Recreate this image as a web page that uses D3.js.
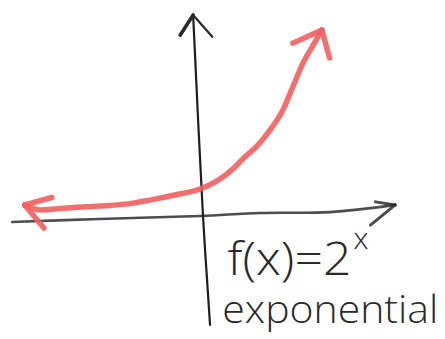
<!DOCTYPE html>
<html>
<head>
<meta charset="utf-8">
<script src="https://cdn.jsdelivr.net/npm/d3@7"></script>
<style>
  html, body { margin: 0; padding: 0; background: #fff; }
  svg { display: block; }
</style>
</head>
<body>
<svg id="chart" width="445" height="339"></svg>
<script>
// Hand-sketched graph of f(x) = 2^x, in graph units (origin at the axes' crossing)
const curveX = [-3.79, -3.45, -2.89, -2.19, -1.49, -1.13, -0.60, -0.06, 0.30, 0.64, 0.89, 1.15, 1.43, 1.70, 1.91, 2.13, 2.32, 2.53];
const curveY = [0.37, 0.20, 0.27, 0.33, 0.43, 0.53, 0.70, 0.90, 1.17, 1.57, 1.97, 2.33, 2.87, 3.53, 4.30, 5.10, 5.63, 6.20];

// Axis strokes as drawn (slightly tilted by hand)
const xAxisX = [-4.06, -2.21, -0.06, 1.21, 2.70, 4.09];
const xAxisY = [-0.20, -0.10, 0.00, 0.10, 0.13, 0.37];
const yAxisX = [0.15, 0.00, -0.21];
const yAxisY = [-3.63, 0.00, 6.70];

const formulaBase = "f(x)=2";
const formulaExp = "x";
const caption = "exponential";

const svg = d3.select("#chart");
const x = d3.scaleLinear().domain([-4, 4]).range([15, 391]);
const y = d3.scaleLinear().domain([0, 7]).range([216, 6]);

const toPts = (xs, ys) => xs.map((v, i) => [x(v), y(ys[i])]);
const line = d3.line().curve(d3.curveCatmullRom.alpha(0.5));
const smooth = d3.line().curve(d3.curveMonotoneX);

// Arrowhead wings: tip point, point behind it, and [angle offset in degrees, length] per wing
function arrowhead(tip, back, wings) {
  const a = Math.atan2(back[1] - tip[1], back[0] - tip[0]);
  return wings.map(([off, len]) => {
    const t = a + off * Math.PI / 180;
    return [tip, [tip[0] + len * Math.cos(t), tip[1] + len * Math.sin(t)]];
  });
}

const axisColor = "#2e2e2e";
const red = "#f0605f";

// x axis
const xPts = toPts(xAxisX, xAxisY);
svg.append("path").attr("d", line(xPts))
  .attr("fill", "none").attr("stroke", axisColor).attr("stroke-width", 2.6)
  .attr("stroke-linecap", "round").attr("opacity", 0.85);
arrowhead(xPts[xPts.length - 1], xPts[xPts.length - 2], [[15, 20], [-33, 32]]).forEach(w =>
  svg.append("path").attr("d", d3.line()(w)).attr("fill", "none")
    .attr("stroke", axisColor).attr("stroke-width", 3).attr("stroke-linecap", "round").attr("opacity", 0.85));

// y axis
const yPts = toPts(yAxisX, yAxisY);
svg.append("path").attr("d", line(yPts))
  .attr("fill", "none").attr("stroke", "#1e1e1e").attr("stroke-width", 2.2)
  .attr("stroke-linecap", "round");
arrowhead(yPts[yPts.length - 1], [x(-0.13), y(4.5)], [[36, 24], [-38, 29]]).forEach((w, i) =>
  svg.append("path").attr("d", d3.line()(w)).attr("fill", "none")
    .attr("stroke", "#2a2a2a").attr("stroke-width", i === 0 ? 3.6 : 2.2).attr("stroke-linecap", "round"));

// the exponential curve
const cPts = toPts(curveX, curveY);
const redStyle = sel => sel.attr("fill", "none").attr("stroke", red).attr("stroke-width", 5.5)
  .attr("stroke-linecap", "round").attr("stroke-linejoin", "round").attr("opacity", 0.9);
svg.append("path").attr("d", smooth(cPts)).call(redStyle);
arrowhead(cPts[0], [x(-3.45), y(0.18)], [[-35, 28], [31, 30]]).forEach(w =>
  svg.append("path").attr("d", d3.line()(w)).call(redStyle));
arrowhead(cPts[cPts.length - 1], cPts[cPts.length - 3], [[36, 32], [-45, 29]]).forEach(w =>
  svg.append("path").attr("d", d3.line()(w)).call(redStyle));

// labels
const font = "'Open Sans', 'Noto Sans', sans-serif";
const f = svg.append("text")
  .attr("x", x(0.52)).attr("y", y(-1.95))
  .attr("font-family", font).attr("font-weight", 300).attr("font-size", 46)
  .attr("fill", "#2a2a2a");
f.append("tspan").text(formulaBase).attr("textLength", 124).attr("lengthAdjust", "spacingAndGlyphs");
f.append("tspan").text(formulaExp).attr("font-size", 30).attr("dy", -26).attr("dx", 2);

svg.append("text")
  .attr("x", x(0.41)).attr("y", y(-3.55))
  .attr("font-family", font).attr("font-weight", 300).attr("font-size", 38)
  .attr("textLength", 216).attr("lengthAdjust", "spacingAndGlyphs")
  .attr("fill", "#2a2a2a")
  .text(caption);
</script>
</body>
</html>
